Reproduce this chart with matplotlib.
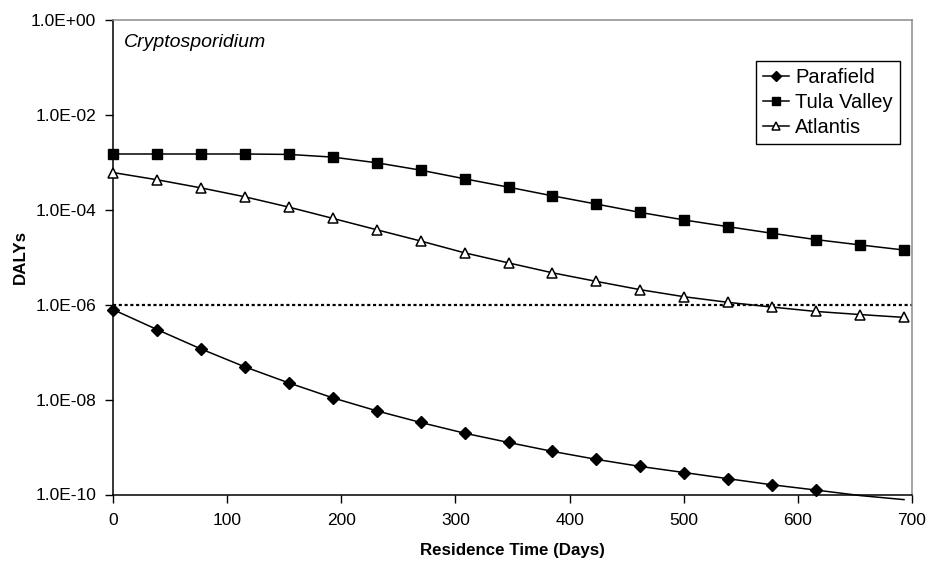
import numpy as np
import matplotlib.pyplot as plt
from matplotlib.ticker import FixedLocator, FuncFormatter, NullLocator

plt.rcParams['font.family'] = ['Liberation Sans', 'DejaVu Sans']

# residence time (days) for each plotted point
days = [0, 38.5, 77, 115.5, 154, 192.5, 231, 269.5, 308, 346.5, 385,
        423.5, 462, 500.5, 539, 577.5, 616, 654.5, 693]

parafield = [7.9e-7, 3.0e-7, 1.17e-7, 4.9e-8, 2.25e-8, 1.09e-8, 5.8e-9,
             3.3e-9, 1.96e-9, 1.25e-9, 8.1e-10, 5.5e-10, 3.9e-10, 2.9e-10,
             2.15e-10, 1.6e-10, 1.24e-10, 9.5e-11, 7.8e-11]
tula = [1.5e-3, 1.5e-3, 1.5e-3, 1.5e-3, 1.47e-3, 1.29e-3, 9.8e-4, 6.85e-4,
        4.5e-4, 3.0e-4, 1.97e-4, 1.32e-4, 8.8e-5, 6.1e-5, 4.4e-5, 3.2e-5,
        2.35e-5, 1.82e-5, 1.42e-5]
atlantis = [6.1e-4, 4.3e-4, 2.9e-4, 1.88e-4, 1.14e-4, 6.6e-5, 3.8e-5,
            2.2e-5, 1.24e-5, 7.6e-6, 4.7e-6, 3.1e-6, 2.07e-6, 1.47e-6,
            1.12e-6, 8.9e-7, 7.2e-7, 6.2e-7, 5.4e-7]

threshold = 1e-6
yticks = [1e0, 1e-2, 1e-4, 1e-6, 1e-8, 1e-10]
xticks = [0, 100, 200, 300, 400, 500, 600, 700]
ymin, ymax = 1e-10, 1


def sci_label(v, pos):
    s = '%.1E' % v
    mant, exp = s.split('E')
    return '%sE%s%02d' % (mant, exp[0], abs(int(exp)))


fig = plt.figure(figsize=(9.31, 5.68), dpi=100)
ax = fig.add_axes([113 / 931, 1 - 494.5 / 568, 799 / 931, 474.5 / 568])

series = [
    ('Parafield', parafield, dict(marker='D', ms=6.5, mfc='black', mec='black')),
    ('Tula Valley', tula, dict(marker='s', ms=7.5, mfc='black', mec='black')),
    ('Atlantis', atlantis, dict(marker='^', ms=7.5, mfc='white', mec='black', mew=1.1)),
]
for name, vals, style in series:
    # Excel draws the line past the plot edge, but hides markers outside
    ax.plot(days, vals, color='black', lw=1.1, clip_on=False, zorder=3)
    v = np.array(vals)
    shown = np.where((v >= ymin) & (v <= ymax), v, np.nan)
    ax.plot(days, shown, color='black', lw=0, zorder=4, clip_on=False, **style)
    ax.plot([], [], color='black', lw=1.1, label=name, **style)

ax.axhline(threshold, color='black', lw=1.6, ls=(0, (1.4, 1.2)), zorder=2)

ax.set_yscale('log')
ax.set_ylim(ymin, ymax)
ax.set_xlim(0, 700)
ax.yaxis.set_major_locator(FixedLocator(yticks))
ax.yaxis.set_major_formatter(FuncFormatter(sci_label))
ax.yaxis.set_minor_locator(NullLocator())
ax.set_xticks(xticks)

ax.tick_params(axis='both', direction='out', length=6, width=1,
               labelsize=12.5, color='black')
ax.tick_params(axis='x', pad=7)
ax.tick_params(axis='y', pad=6)

for side in ['top', 'right']:
    ax.spines[side].set_color('#8c8c8c')
for side in ['left', 'bottom']:
    ax.spines[side].set_color('black')
for sp in ax.spines.values():
    sp.set_linewidth(1.1)

ax.set_xlabel('Residence Time (Days)', fontsize=12.2, fontweight='bold')
ax.set_ylabel('DALYs', fontsize=12.2, fontweight='bold')
ax.xaxis.set_label_coords(0.5, -0.103)
ax.yaxis.set_label_coords(-0.106, 0.5)

ax.text(0.014, 0.952, 'Cryptosporidium', transform=ax.transAxes,
        fontsize=14, fontstyle='italic', va='center', ha='left')

leg = ax.legend(loc='upper left', bbox_to_anchor=(0.8048, 0.9136),
                borderaxespad=0, fontsize=14.5, frameon=True, fancybox=False,
                edgecolor='black', framealpha=1, handlelength=1.3,
                handletextpad=0.3, labelspacing=0.3, borderpad=0.35,
                markerscale=0.8)
leg.get_frame().set_linewidth(1.0)

fig.savefig('out.png', dpi=100)
